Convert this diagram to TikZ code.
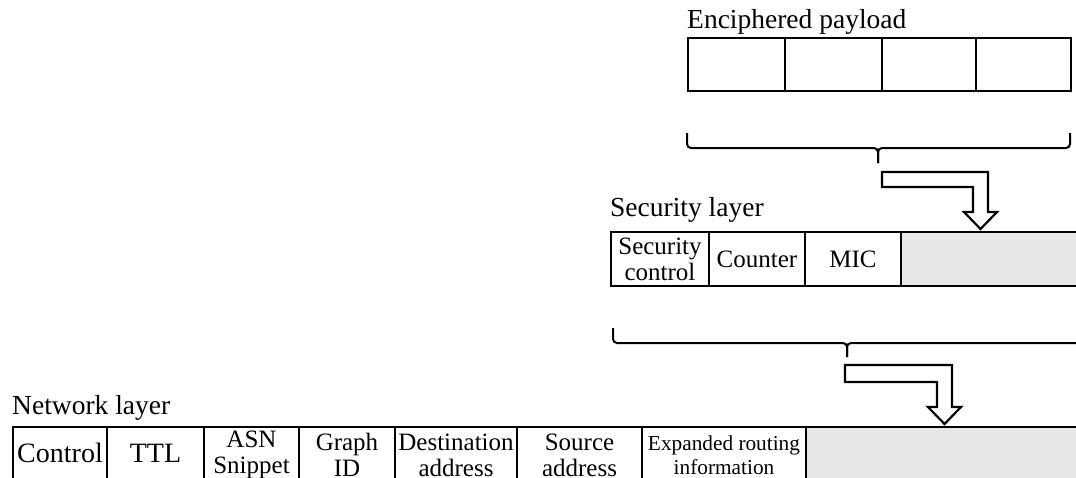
\documentclass[tikz,border=0pt]{standalone}
\usepackage{fontspec}
\setmainfont{Liberation Serif}
\newcommand\pktlabel{\fontsize{27.5}{29}\selectfont}
\newcommand\pktfont{\fontsize{25}{26}\selectfont}
\newcommand\pktbig{\fontsize{28}{28}\selectfont}
\newcommand\pktsmall{\fontsize{21.3}{24.5}\selectfont}
\definecolor{fieldgray}{HTML}{E7E7E7}
\begin{document}
\begin{tikzpicture}[x=1pt,y=-1pt,
  field/.style={draw, line width=2pt, inner sep=0pt, anchor=north west,
                align=center, font=\pktfont, minimum height=54},
  netfield/.style={field, minimum height=56},
  spare/.style={field, fill=fieldgray},
  layername/.style={anchor=base west, inner sep=0pt, font=\pktlabel},
  brace/.style={line width=2pt, rounded corners=4pt},
  hollow/.style={draw, line width=2.2pt, fill=white, line join=miter}]
\useasboundingbox (0,0) rectangle (1076,477);
\clip (0,0) rectangle (1076,477);

% enciphered payload
\node[layername] (encl) at (687,28) {Enciphered payload};
\node[field, minimum width=97, minimum height=53] (e1) at (687,37) {};
\node[field, minimum width=97, minimum height=53] (e2) at (784,37) {};
\node[field, minimum width=94, minimum height=53] (e3) at (881,37) {};
\node[field, minimum width=95, minimum height=53] (e4) at (975,37) {};

% brace under the payload
\coordinate (b1tip) at (878,163);
\draw[brace] (687,133) |- (b1tip |- 0,148) -- (b1tip);
\draw[brace] (b1tip) -- (b1tip |- 0,148) -| (1070,133);

% security layer
\node[layername] (secl) at (610,216) {Security layer};
\node[field, minimum width=98] (sc) at (610,231) {Security\\control};
\node[field, minimum width=96] (ctr) at (708,231) {Counter};
\node[field, minimum width=96] (mic) at (804,231) {MIC};
\node[spare, minimum width=190] (sp) at (900,231) {};

% bent arrow into the security frame
\coordinate (a1tip) at (980.5,229);
\draw[hollow] (882,172) -- (988,172) -- (988,212) -- (997,212) -- (a1tip)
  -- (964,212) -- (973,212) -- (973,187) -- (882,187) -- cycle;

% brace under the security frame
\coordinate (b2tip) at (847,357);
\draw[brace] (613,328) |- (b2tip |- 0,343) -- (b2tip);
\draw[brace] (b2tip) -- (b2tip |- 0,343) -- (1090,343);

% bent arrow into the network frame
\coordinate (a2tip) at (944.5,424);
\draw[hollow] (845,365) -- (952,365) -- (952,407) -- (961,407) -- (a2tip)
  -- (928,407) -- (937,407) -- (937,382) -- (845,382) -- cycle;

% network layer
\node[layername] (netl) at (12,414) {Network layer};
\node[field, minimum width=94, minimum height=52, font=\pktbig] (ctl) at (12,426) {Control};
\node[field, minimum width=97, minimum height=52, font=\pktbig] (ttl) at (106,426) {TTL};
\node[netfield, minimum width=95] (asn) at (203,426) {ASN\\Snippet};
\node[netfield, minimum width=96] (gid) at (298,426) {Graph\\ID};
\node[netfield, minimum width=122] (dst) at (394,426) {Destination\\address};
\node[netfield, minimum width=125] (src) at (516,426) {Source\\address};
\node[netfield, minimum width=164, font=\pktsmall] (eri) at (641,426) {Expanded routing\\information};
\node[spare, minimum width=290, minimum height=56] (np) at (805,426) {};
\end{tikzpicture}
\end{document}
